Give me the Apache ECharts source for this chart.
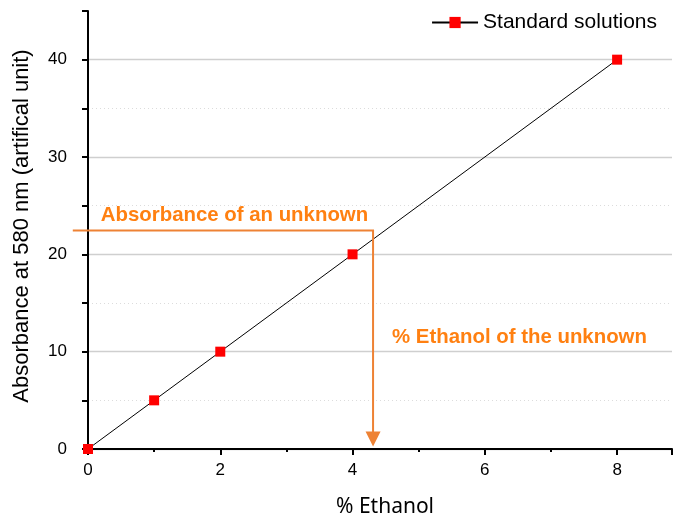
<!DOCTYPE html>
<html><head><meta charset="utf-8">
<script src="https://cdn.jsdelivr.net/npm/echarts@6/dist/echarts.min.js"></script>
<style>html,body{margin:0;padding:0;background:#fff}#chart{width:673px;height:519px}</style>
</head><body><div id="chart"></div>
<script>
// ---- data ----
const ethanolPercent = [0, 1, 2, 4, 8];
const absorbance = [0, 5, 10, 20, 40];
const seriesName = 'Standard solutions';
const xTickLabels = [0, 2, 4, 6, 8];
const yTickLabels = [0, 10, 20, 30, 40];
const unknownEthanol = [4.31];
const unknownAbsorbance = [22.45];
const guideStartEthanol = -0.23;
const arrowTipAbsorbance = 0.25;
const annotationTexts = ['Absorbance of an unknown', '% Ethanol of the unknown'];
const xAxisName = '% Ethanol';
const yAxisName = 'Absorbance at 580 nm (artifical unit)';

// ---- styles ----
const FONT = '"Liberation Sans", Arial, sans-serif';
const guideColor = '#EE8234';
const textColor = '#FF8011';

const standardData = ethanolPercent.map((x, i) => [x, absorbance[i]]);
const unknownData = unknownEthanol.map((x, i) => [x, unknownAbsorbance[i]]);

const chart = echarts.init(document.getElementById('chart'), null, { renderer: 'canvas' });
chart.setOption({
  backgroundColor: '#fff',
  animation: false,
  grid: { left: 88, right: 1, top: 11, bottom: 70, containLabel: false, outerBoundsMode: 'none' },
  legend: {
    data: [seriesName],
    right: 11, top: 7,
    itemWidth: 46, itemHeight: 14, itemGap: 8,
    textStyle: { fontSize: 21, fontFamily: FONT, color: '#000' }
  },
  xAxis: [{
    type: 'value', min: 0, max: 8.83, interval: 2, position: 'bottom',
    name: xAxisName, nameLocation: 'middle', nameGap: 48,
    nameTextStyle: { fontSize: 21, fontFamily: '"Noto Sans", "Open Sans", sans-serif', color: '#000', padding: [0, 0, 0, 10] },
    axisLine: { show: true, onZero: false, lineStyle: { color: '#000', width: 2 } },
    axisTick: { show: true, inside: false, length: 6, lineStyle: { color: '#000', width: 2 } },
    axisLabel: { margin: 13, fontSize: 17, fontFamily: FONT, color: '#000',
      formatter: v => xTickLabels.includes(v) ? String(v) : '' },
    splitLine: { show: false }
  }, {
    type: 'value', min: 0, max: 8.83, interval: 1, position: 'bottom',
    axisLine: { show: false },
    axisTick: { show: true, inside: false, length: 3, lineStyle: { color: '#000', width: 2 } },
    axisLabel: { show: false },
    splitLine: { show: false }
  }],
  yAxis: [{
    type: 'value', min: 0, max: 45, interval: 5, position: 'left',
    name: yAxisName, nameLocation: 'middle', nameGap: 55, nameRotate: 90,
    nameTextStyle: { fontSize: 22, fontFamily: FONT, color: '#000', padding: [0, 0, 0, 8] },
    axisLine: { show: true, onZero: false, lineStyle: { color: '#000', width: 2 } },
    axisTick: { show: true, inside: false, length: 6, lineStyle: { color: '#000', width: 2 } },
    axisLabel: { margin: 21, fontSize: 17, fontFamily: FONT, color: '#000',
      formatter: v => yTickLabels.includes(v) ? String(v) : '' },
    splitLine: { show: true, showMaxLine: false, lineStyle: { color: '#dcdcdc', width: 1, type: [1, 3] } }
  }, {
    type: 'value', min: 0, max: 45, interval: 10, position: 'left',
    axisLine: { show: false }, axisTick: { show: false }, axisLabel: { show: false },
    splitLine: { show: true, showMaxLine: false, lineStyle: { color: '#cfcfcf', width: 1.3 } }
  }],
  series: [{
    name: seriesName, type: 'line', xAxisIndex: 0, yAxisIndex: 0,
    data: standardData,
    symbol: 'rect', symbolSize: 10,
    itemStyle: { color: '#FF0000' },
    lineStyle: { color: '#000', width: 1 },
    z: 3
  }, {
    name: 'unknown', type: 'custom', xAxisIndex: 0, yAxisIndex: 0,
    data: unknownData, silent: true, clip: false, z: 4,
    renderItem: function (params, api) {
      const corner = api.coord([api.value(0), api.value(1)]);
      const start = api.coord([guideStartEthanol, api.value(1)]);
      const tip = api.coord([api.value(0), arrowTipAbsorbance]);
      const headLen = 15, headHalf = 7.5;
      return {
        type: 'group',
        children: [
          { type: 'polyline', shape: { points: [start, corner, [tip[0], tip[1] - headLen + 1]] },
            style: { stroke: guideColor, lineWidth: 2, fill: null } },
          { type: 'polygon', shape: { points: [[tip[0] - headHalf, tip[1] - headLen], [tip[0] + headHalf, tip[1] - headLen], tip] },
            style: { fill: guideColor } },
          { type: 'text', x: start[0] + 28, y: corner[1] - 15,
            style: { text: annotationTexts[0], fill: textColor, fontSize: 20.4, fontWeight: 'bold', fontFamily: FONT, align: 'left', verticalAlign: 'middle' } },
          { type: 'text', x: corner[0] + 19, y: corner[1] + 107,
            style: { text: annotationTexts[1], fill: textColor, fontSize: 20.4, fontWeight: 'bold', fontFamily: FONT, align: 'left', verticalAlign: 'middle' } }
        ]
      };
    }
  }]
});
</script>
</body></html>
